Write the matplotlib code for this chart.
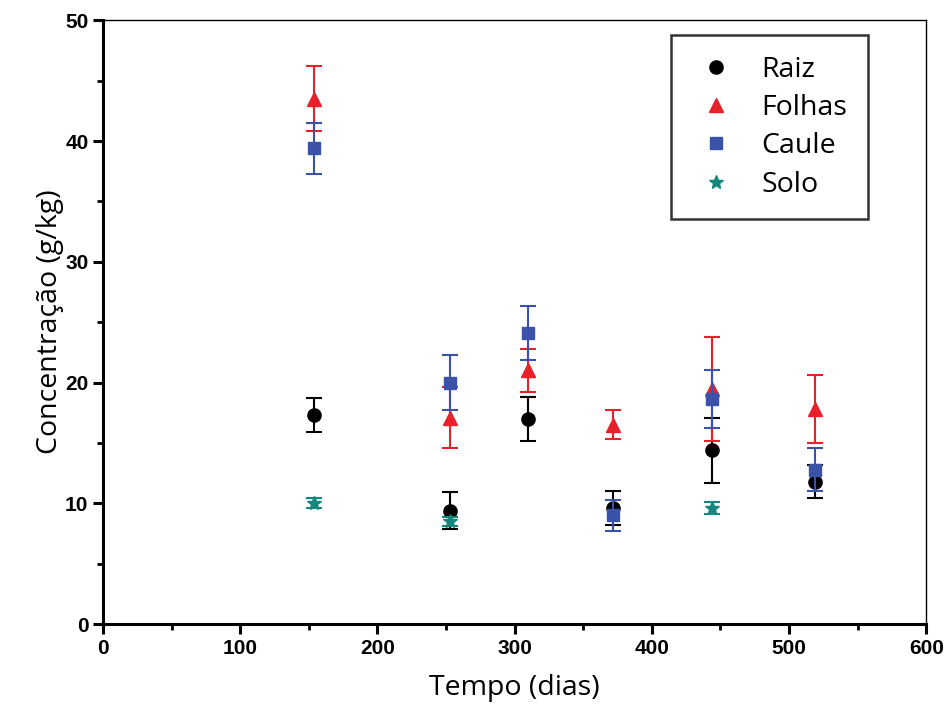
import matplotlib.pyplot as plt

# Tempo (dias) for each sampling
raiz_x = [154, 253, 310, 372, 444, 519]
raiz_y = [17.3, 9.4, 17.0, 9.6, 14.4, 11.8]
raiz_err = [1.4, 1.5, 1.8, 1.4, 2.7, 1.4]

folhas_x = [154, 253, 310, 372, 444, 519]
folhas_y = [43.5, 17.1, 21.0, 16.5, 19.5, 17.8]
folhas_err = [2.7, 2.5, 1.8, 1.2, 4.3, 2.8]

caule_x = [154, 253, 310, 372, 444, 519]
caule_y = [39.4, 20.0, 24.1, 9.0, 18.6, 12.8]
caule_err = [2.1, 2.3, 2.2, 1.3, 2.4, 1.8]

solo_x = [154, 253, 444]
solo_y = [10.0, 8.5, 9.6]
solo_err = [0.4, 0.4, 0.5]

LABEL_FONT = ["Open Sans", "DejaVu Sans"]
TICK_FONT = ["Liberation Sans", "DejaVu Sans"]


def main():
    fig = plt.figure(figsize=(9.49, 7.24), dpi=100)
    ax = fig.add_axes([0.1085, 0.138, 0.8675, 0.834])

    series = [
        (raiz_x, raiz_y, raiz_err, "o", "black", "Raiz", 9.5),
        (folhas_x, folhas_y, folhas_err, "^", "#e8202a", "Folhas", 10.5),
        (caule_x, caule_y, caule_err, "s", "#3a52a8", "Caule", 8.5),
        (solo_x, solo_y, solo_err, "*", "#16867c", "Solo", 10),
    ]
    handles = []
    for i, (x, y, e, m, c, lab, ms) in enumerate(series):
        cont = ax.errorbar(
            x, y, yerr=e, fmt=m, color=c, ecolor=c, markersize=ms,
            elinewidth=1.5, capsize=6, capthick=1.5, label=lab, zorder=3 + i,
        )
        handles.append(cont[0])

    ax.set_xlim(0, 600)
    ax.set_ylim(0, 50)
    ax.set_xticks(range(0, 601, 100))
    ax.set_xticks(range(50, 600, 100), minor=True)
    ax.set_yticks(range(0, 51, 10))
    ax.set_yticks(range(5, 50, 10), minor=True)

    for side in ["left", "bottom"]:
        ax.spines[side].set_linewidth(2.2)
    for side in ["top", "right"]:
        ax.spines[side].set_linewidth(1.0)

    ax.tick_params(which="major", direction="out", length=7, width=2.2)
    ax.tick_params(which="minor", direction="out", length=4, width=2.0)
    ax.tick_params(labelsize=15)
    for t in ax.get_xticklabels() + ax.get_yticklabels():
        t.set_family(TICK_FONT)
        t.set_fontweight("semibold")

    ax.set_xlabel("Tempo (dias)", fontsize=20.5, family=LABEL_FONT, labelpad=12)
    ax.set_ylabel("Concentração (g/kg)", fontsize=20.5, family=LABEL_FONT, labelpad=1)

    leg = ax.legend(
        handles, [s[5] for s in series],
        loc="upper right", bbox_to_anchor=(0.929, 0.975), borderaxespad=0,
        prop={"family": LABEL_FONT, "size": 20.5},
        frameon=True, fancybox=False, edgecolor="black",
        handletextpad=0.75, borderpad=0.72, labelspacing=0.36,
        handlelength=1.7,
    )
    leg.get_frame().set_linewidth(1.8)

    fig.savefig("out.png", dpi=100)


if __name__ == "__main__":
    main()
